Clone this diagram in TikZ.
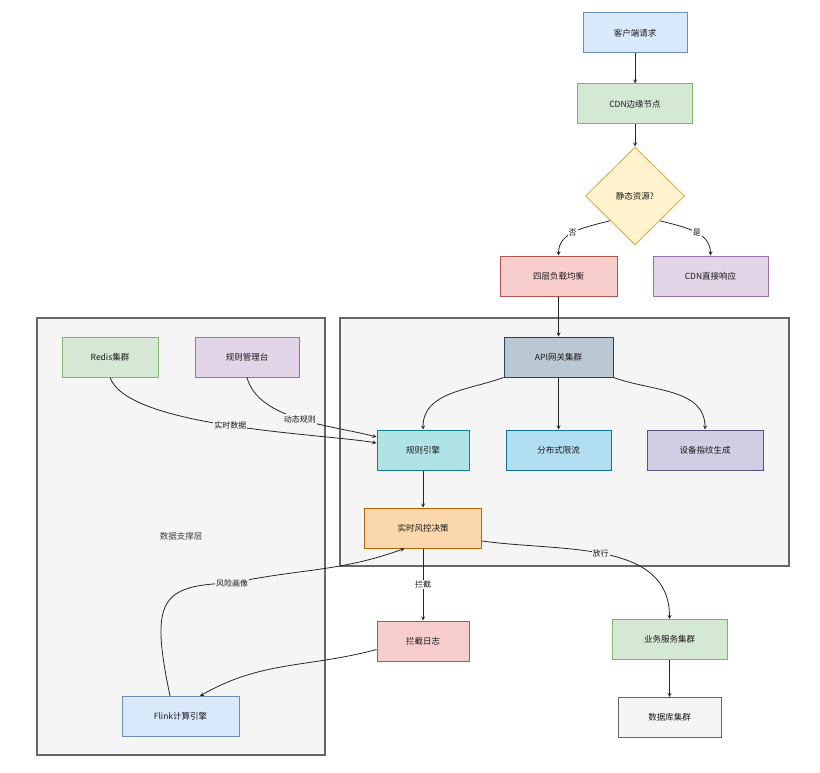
\documentclass[tikz,border=0pt]{standalone}
\usepackage{fontspec}
\setmainfont{Noto Sans CJK SC}
\usepackage{tikz}
\definecolor{blueFill}{HTML}{DAE8FC}
\definecolor{blueLine}{HTML}{6C8EBF}
\definecolor{greenFill}{HTML}{D5E8D4}
\definecolor{greenLine}{HTML}{82B366}
\definecolor{yellowFill}{HTML}{FFF2CC}
\definecolor{yellowLine}{HTML}{D6B656}
\definecolor{redFill}{HTML}{F8CECC}
\definecolor{redLine}{HTML}{B85450}
\definecolor{purpleFill}{HTML}{E1D5E7}
\definecolor{purpleLine}{HTML}{9673A6}
\definecolor{steelFill}{HTML}{BAC8D3}
\definecolor{steelLine}{HTML}{23445D}
\definecolor{tealFill}{HTML}{B0E3E6}
\definecolor{tealLine}{HTML}{0E8088}
\definecolor{skyFill}{HTML}{B1DDF0}
\definecolor{skyLine}{HTML}{10739E}
\definecolor{lilacFill}{HTML}{D0CEE2}
\definecolor{lilacLine}{HTML}{56517E}
\definecolor{orangeFill}{HTML}{FAD7AC}
\definecolor{orangeLine}{HTML}{B46504}
\definecolor{groupFill}{HTML}{F5F5F5}
\definecolor{groupLine}{HTML}{666666}
\usetikzlibrary{positioning}
\usetikzlibrary{shapes}
\usetikzlibrary{arrows}
\tikzset{myGroup/.style={rectangle,draw=groupLine,fill=groupFill,line width=1.3pt,text=black!75,font=\fontsize{8.5}{10}\selectfont}}
\tikzset{myLabel/.style={font=\fontsize{8}{9}\selectfont,inner sep=1pt,text=black!90}}
\tikzset{myArrow/.style={->,>=stealth,line width=0.8pt,draw=black!85}}

\begin{document}
\begin{tikzpicture}[x=1pt,y=1pt,myNode/.style={rectangle,line width=1pt,minimum height=40pt,text centered,text=black!90,font=\fontsize{8.5}{10}\selectfont}]
	\useasboundingbox (0,0) rectangle (820,-773);
	% groups
	\node[myGroup,minimum width=288pt,minimum height=437pt] (dataLayer) at (181,-536.5) {数据支撑层};
	\node[myGroup,minimum width=449pt,minimum height=248pt] (coreLayer) at (564.5,-442) {};
	% entry flow
	\node[myNode,fill=blueFill,draw=blueLine,minimum width=104pt] (client) at (635,-33) {客户端请求};
	\node[myNode,fill=greenFill,draw=greenLine,minimum width=115pt,below=30pt of client] (cdn) {CDN边缘节点};
	\node[diamond,draw=yellowLine,fill=yellowFill,line width=1pt,minimum width=99pt,minimum height=98pt,inner sep=0pt,text=black!90,font=\fontsize{8.5}{10}\selectfont,below=22pt of cdn] (static) {静态资源?};
	\node[myNode,fill=redFill,draw=redLine,minimum width=117pt] (lb) at (558.5,-276) {四层负载均衡};
	\node[myNode,fill=purpleFill,draw=purpleLine,minimum width=115pt] (cdnResp) at (710.5,-276) {CDN直接响应};
	% core layer
	\node[myNode,fill=steelFill,draw=steelLine,minimum width=109pt] (api) at (558.5,-357) {API网关集群};
	\node[myNode,fill=tealFill,draw=tealLine,minimum width=92pt] (rule) at (423,-450) {规则引擎};
	\node[myNode,fill=skyFill,draw=skyLine,minimum width=105pt] (limit) at (558.5,-450) {分布式限流};
	\node[myNode,fill=lilacFill,draw=lilacLine,minimum width=116pt] (finger) at (705,-450) {设备指纹生成};
	\node[myNode,fill=orangeFill,draw=orangeLine,minimum width=117pt,below=37pt of rule] (risk) {实时风控决策};
	% data layer
	\node[myNode,fill=greenFill,draw=greenLine,minimum width=96pt] (redis) at (110,-357) {Redis集群};
	\node[myNode,fill=purpleFill,draw=purpleLine,minimum width=104pt] (console) at (247,-357) {规则管理台};
	\node[myNode,fill=blueFill,draw=blueLine,minimum width=117pt] (flink) at (180.5,-716.5) {Flink计算引擎};
	% outputs
	\node[myNode,fill=redFill,draw=redLine,minimum width=92pt,below=72pt of risk] (blockLog) {拦截日志};
	\node[myNode,fill=greenFill,draw=greenLine,minimum width=115pt] (biz) at (669.5,-639.5) {业务服务集群};
	\node[myNode,fill=groupFill,draw=groupLine,minimum width=103pt,below=37pt of biz] (db) {数据库集群};
	\coordinate (riskMid) at (232,-583);
	% connectors
	\draw[myArrow] (client) -- (cdn);
	\draw[myArrow] (cdn) -- (static);
	\draw[myArrow] (static.south west) to[out=195,in=90] node[myLabel,fill=white,pos=0.55] {否} (lb.north);
	\draw[myArrow] (static.south east) to[out=-15,in=90] node[myLabel,fill=white,pos=0.55] {是} (cdnResp.north);
	\draw[myArrow] (lb) -- (api);
	\draw[myArrow] (api.south west) to[out=200,in=90] (rule.north);
	\draw[myArrow] (api) -- (limit);
	\draw[myArrow] (api.south east) to[out=-20,in=90] (finger.north);
	\draw[myArrow] (redis.south) to[out=-70,in=170,looseness=0.5] node[myLabel,fill=groupFill,pos=0.5] {实时数据} ([yshift=7pt]rule.west);
	\draw[myArrow] (console.south) to[out=-75,in=165,looseness=0.8] node[myLabel,fill=groupFill,pos=0.5] {动态规则} ([yshift=13pt]rule.west);
	\draw[myArrow] (rule) -- (risk);
	\draw[myArrow] (risk) -- node[myLabel,fill=white] {拦截} (blockLog);
	\draw[myArrow] ([yshift=-13pt]risk.east) to[out=-8,in=90] node[myLabel,fill=groupFill,pos=0.48] {放行} (biz.north);
	\draw[myArrow] ([yshift=-8.5pt]blockLog.west) to[out=195,in=30] ([xshift=19.5pt]flink.north);
	\draw[myArrow] ([xshift=-10.5pt]flink.north) .. controls (150,-600) and (160,-585) .. (riskMid) to[out=12,in=200] ([xshift=-18.5pt]risk.south);
	\node[myLabel,fill=groupFill] (riskLabel) at (riskMid) {风险画像};
	\draw[myArrow] (biz) -- (db);
\end{tikzpicture}
\end{document}
